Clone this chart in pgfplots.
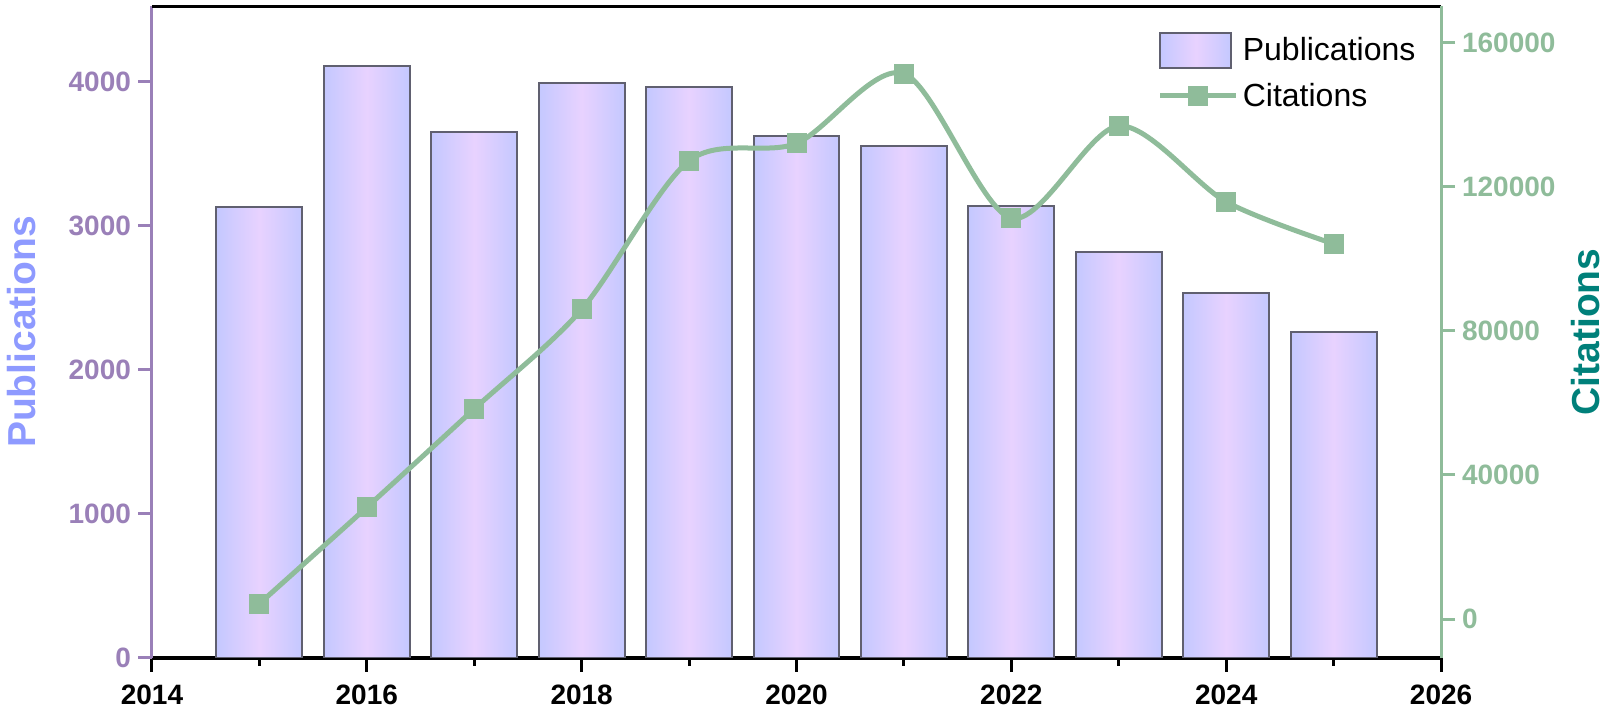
\documentclass[border=0pt]{standalone}
\usepackage{fontspec}
\setmainfont{Liberation Sans}
\usepackage{pgfplots}
\pgfplotsset{compat=1.18}
\definecolor{bedge}{HTML}{C4C8FF}
\definecolor{bmid}{HTML}{E8D2FF}
\definecolor{bborder}{HTML}{606070}
\definecolor{lpurple}{HTML}{9A80B8}
\definecolor{lblue}{HTML}{8E9AFF}
\definecolor{rgreen}{HTML}{8FBC9A}
\definecolor{rteal}{HTML}{00807A}
\pgfplotsset{
  barleg/.style={legend image code/.code={\draw[##1] (0pt,-8.75pt) rectangle (35.5pt,8.75pt);}},
  lineleg/.style={legend image code/.code={\draw[##1, mark repeat=2, mark phase=2] plot coordinates {(0pt,0pt) (19pt,0pt) (38pt,0pt)};}},
  pubbar/.style={ybar, bar width=0.8, bar shift=0pt, draw=bborder, line width=1pt,
    left color=bedge, right color=bedge, middle color=bmid},
  common/.style={
    scale only axis, width=644.5pt, height=326pt,
    xmin=2014, xmax=2026,
    /pgf/number format/assume math mode=true,
    /pgf/number format/1000 sep={},
    /pgf/number format/fixed,
    /pgf/number format/precision=0,
    tick label style={font=\fontsize{14}{16}\selectfont\bfseries},
    label style={font=\fontsize{19.5}{22}\selectfont\bfseries},
  }
}
\begin{document}
\begin{tikzpicture}
\begin{axis}[common,
  ymin=0, ymax=4527,
  axis x line*=bottom, axis y line*=left,
  x axis line style={black, line width=2pt, -},
  y axis line style={lpurple, line width=1.5pt, -},
  xtick={2014,2016,...,2026},
  minor xtick={2015,2017,...,2025},
  ytick={0,1000,...,4000},
  tick align=outside,
  xtick style={black, line width=1.5pt},
  ytick style={lpurple, line width=1.5pt},
  major tick length=7pt, minor tick length=4pt,
  yticklabel style={text=lpurple},
  xticklabel style={text=black, yshift=-3pt},
  scaled y ticks=false,
  ylabel={Publications},
  ylabel style={text=lblue, at={(axis description cs:-0.1009,0.5)}, anchor=center},
]
\addplot[pubbar] coordinates {(2015,3132)};
\addplot[pubbar] coordinates {(2016,4107)};
\addplot[pubbar] coordinates {(2017,3651)};
\addplot[pubbar] coordinates {(2018,3993)};
\addplot[pubbar] coordinates {(2019,3964)};
\addplot[pubbar] coordinates {(2020,3623)};
\addplot[pubbar] coordinates {(2021,3552)};
\addplot[pubbar] coordinates {(2022,3139)};
\addplot[pubbar] coordinates {(2023,2819)};
\addplot[pubbar] coordinates {(2024,2534)};
\addplot[pubbar] coordinates {(2025,2263)};
\draw[black, line width=2pt] (rel axis cs:0,1) -- (rel axis cs:1,1);
\coordinate (SW) at (rel axis cs:0,0);
\coordinate (NE) at (rel axis cs:1,1);
\end{axis}
\begin{axis}[common,
  ymin=-10820, ymax=170250,
  axis x line=none, axis y line*=right,
  y axis line style={rgreen, line width=1.5pt, -},
  ytick={0,40000,80000,120000,160000},
  yticklabels={0,40000,80000,120000,160000},
  tick align=outside,
  ytick style={rgreen, line width=1.5pt},
  major tick length=7pt,
  yticklabel style={text=rgreen},
  scaled y ticks=false,
  ylabel={Citations},
  ylabel style={text=rteal, at={(axis description cs:1.112,0.5)}, anchor=center},
  legend style={draw=none, fill=none, at={(axis description cs:0.78,0.961)}, anchor=north west,
    font=\fontsize{16}{19.5}\selectfont, row sep=5pt, inner sep=0pt},
  legend cell align=left,
]
\addlegendimage{barleg, draw=bborder, line width=1pt, left color=bedge, right color=bedge, middle color=bmid}
\addlegendentry{Publications}
\addplot[lineleg, rgreen, line width=2.5pt, smooth, mark=square*, mark size=3.75pt,
  mark options={fill=rgreen, draw=none}]
  coordinates {(2015,4270) (2016,31032) (2017,58363) (2018,85979) (2019,127260)
               (2020,132100) (2021,151459) (2022,111317) (2023,136940) (2024,115872) (2025,104199)};
\addlegendentry{Citations}
\end{axis}
\pgfresetboundingbox
\path[use as bounding box] ([shift={(-76pt,-26pt)}]SW) rectangle ([shift={(83.5pt,3pt)}]NE);
\end{tikzpicture}
\end{document}
